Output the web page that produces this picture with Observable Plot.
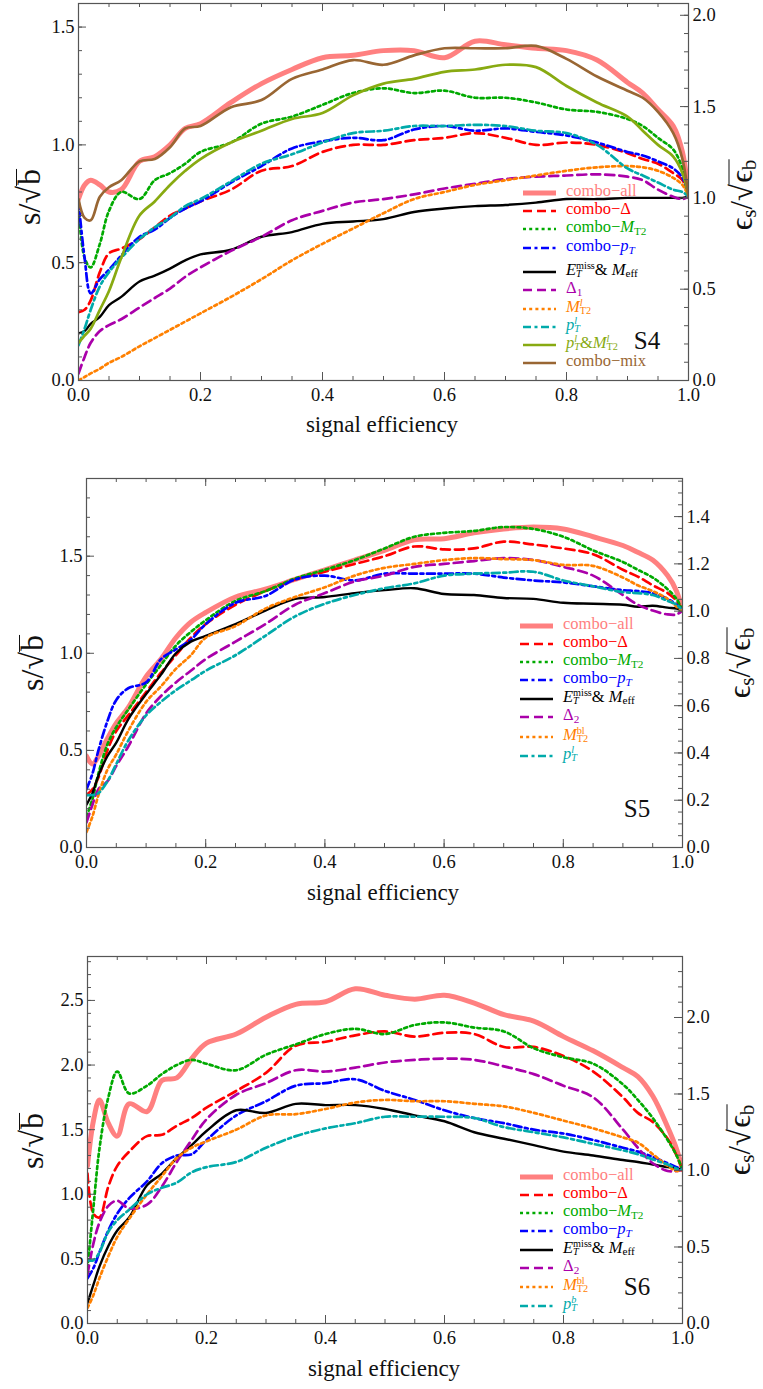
<!DOCTYPE html>
<html><head><meta charset="utf-8">
<script src="https://cdn.jsdelivr.net/npm/d3@7"></script>
<script src="https://cdn.jsdelivr.net/npm/@observablehq/plot@0.6"></script>
<style>
body{margin:0;background:#fff;}
#wrap{position:relative;width:763px;height:1389px;overflow:hidden;font-family:"Liberation Serif","Times New Roman",serif;color:#111;}
#wrap svg text{font-family:"Liberation Serif","Times New Roman",serif !important;font-size:18.5px !important;fill:#111;}
.plot{position:absolute;left:0;}
.lab{position:absolute;white-space:nowrap;transform:translate(-50%,-50%);line-height:1;font-family:"Liberation Serif","Times New Roman",serif;}
.rot{transform:translate(-50%,-50%) rotate(-90deg);}
.vin{display:inline-block;border-top:1.6px solid #111;line-height:0.8;padding-left:1px;}
.leg{position:absolute;white-space:nowrap;transform:translateY(-58%);font-size:16.5px;line-height:0.9;font-family:"Liberation Serif","Times New Roman",serif;}
.sb{font-size:0.68em;vertical-align:-0.22em;line-height:0;}
.ss{display:inline-block;vertical-align:-0.26em;font-size:0.62em;line-height:0.82;text-align:left;}
.ss>span{display:block;}
.samp{position:absolute;}
</style></head><body><div id="wrap"></div>
<script>
// ---------- data ----------
const X = [0,0.01,0.02,0.035,0.05,0.07,0.1,0.125,0.15,0.175,0.2,0.25,0.3,0.35,0.4,0.45,0.5,0.55,0.6,0.65,0.7,0.75,0.8,0.85,0.9,0.925,0.95,0.975,0.99,1];
const xMajor = [0,0.2,0.4,0.6,0.8,1.0];

// S4
const S4_all   = [0.77,0.83,0.85,0.83,0.80,0.81,0.93,0.95,1.00,1.07,1.09,1.18,1.26,1.32,1.37,1.38,1.40,1.40,1.37,1.44,1.425,1.41,1.40,1.36,1.265,1.22,1.15,1.08,0.97,0.78];
const S4_delta = [0.29,0.30,0.34,0.46,0.54,0.56,0.60,0.65,0.70,0.73,0.76,0.81,0.89,0.91,0.97,1.00,1.00,1.02,1.03,1.05,1.03,1.00,1.01,1.00,0.965,0.94,0.92,0.88,0.85,0.78];
const S4_mt2   = [0.74,0.52,0.48,0.58,0.72,0.80,0.77,0.85,0.88,0.92,0.97,1.01,1.09,1.12,1.17,1.22,1.24,1.22,1.23,1.20,1.20,1.18,1.15,1.14,1.11,1.08,1.03,0.98,0.90,0.78];
const S4_pt    = [0.76,0.52,0.37,0.43,0.47,0.53,0.61,0.64,0.69,0.73,0.76,0.84,0.91,0.985,1.015,1.03,1.02,1.065,1.08,1.06,1.07,1.055,1.04,1.01,0.97,0.955,0.93,0.90,0.86,0.78];
const S4_et    = [0.20,0.21,0.24,0.27,0.32,0.355,0.42,0.445,0.475,0.51,0.535,0.555,0.61,0.63,0.665,0.675,0.685,0.715,0.73,0.74,0.745,0.755,0.77,0.77,0.775,0.775,0.775,0.775,0.775,0.78];
const S4_d1    = [0.03,0.10,0.16,0.21,0.235,0.26,0.31,0.35,0.39,0.44,0.48,0.55,0.61,0.68,0.72,0.755,0.77,0.79,0.815,0.835,0.855,0.865,0.87,0.875,0.865,0.85,0.81,0.78,0.77,0.78];
const S4_m     = [0.0,0.015,0.03,0.05,0.075,0.10,0.145,0.18,0.215,0.25,0.285,0.355,0.43,0.51,0.58,0.645,0.71,0.77,0.80,0.83,0.85,0.87,0.89,0.905,0.91,0.905,0.89,0.86,0.83,0.78];
const S4_p     = [0.15,0.22,0.30,0.40,0.46,0.52,0.60,0.65,0.69,0.74,0.77,0.845,0.92,0.96,1.01,1.05,1.06,1.08,1.08,1.085,1.08,1.06,1.05,1.00,0.90,0.87,0.84,0.81,0.80,0.78];
const S4_pm    = [0.16,0.19,0.22,0.30,0.38,0.52,0.70,0.76,0.83,0.89,0.94,1.01,1.06,1.11,1.135,1.21,1.26,1.28,1.31,1.32,1.34,1.33,1.25,1.18,1.12,1.06,1.00,0.95,0.88,0.78];
const S4_mix   = [0.77,0.69,0.68,0.78,0.82,0.85,0.93,0.94,0.99,1.07,1.08,1.16,1.19,1.28,1.32,1.36,1.34,1.38,1.41,1.41,1.41,1.42,1.365,1.29,1.23,1.20,1.14,1.05,0.94,0.78];

// S5
const S5_all   = [0.47,0.43,0.47,0.56,0.64,0.72,0.88,0.97,1.08,1.16,1.21,1.29,1.33,1.38,1.43,1.48,1.53,1.585,1.59,1.62,1.64,1.65,1.64,1.60,1.555,1.52,1.48,1.40,1.32,1.22];
const S5_delta = [0.27,0.30,0.36,0.50,0.60,0.68,0.80,0.90,0.99,1.08,1.15,1.25,1.32,1.38,1.42,1.46,1.50,1.55,1.535,1.54,1.575,1.56,1.54,1.51,1.43,1.395,1.35,1.31,1.27,1.22];
const S5_mt2   = [0.16,0.25,0.38,0.53,0.62,0.71,0.84,0.94,1.04,1.11,1.17,1.27,1.32,1.385,1.43,1.48,1.54,1.60,1.62,1.63,1.65,1.64,1.60,1.53,1.47,1.43,1.39,1.33,1.28,1.22];
const S5_pt    = [0.30,0.38,0.50,0.65,0.76,0.82,0.85,0.97,1.02,1.07,1.15,1.26,1.295,1.38,1.40,1.375,1.41,1.41,1.41,1.41,1.39,1.375,1.365,1.345,1.325,1.32,1.31,1.28,1.25,1.22];
const S5_et    = [0.22,0.28,0.37,0.47,0.54,0.66,0.79,0.89,1.00,1.06,1.09,1.15,1.22,1.28,1.29,1.31,1.325,1.335,1.305,1.30,1.285,1.28,1.26,1.255,1.25,1.24,1.245,1.235,1.23,1.22];
const S5_d2    = [0.13,0.22,0.30,0.34,0.42,0.52,0.69,0.78,0.85,0.91,0.97,1.06,1.15,1.25,1.31,1.37,1.40,1.445,1.46,1.475,1.49,1.48,1.445,1.40,1.30,1.25,1.22,1.20,1.20,1.22];
const S5_m     = [0.08,0.16,0.27,0.40,0.48,0.60,0.75,0.83,0.92,0.99,1.08,1.14,1.23,1.29,1.34,1.40,1.44,1.46,1.48,1.49,1.485,1.48,1.455,1.45,1.39,1.35,1.32,1.28,1.24,1.22];
const S5_p     = [0.27,0.27,0.28,0.34,0.43,0.55,0.68,0.75,0.81,0.86,0.91,0.99,1.09,1.19,1.255,1.30,1.335,1.36,1.40,1.41,1.415,1.42,1.375,1.345,1.315,1.31,1.30,1.27,1.25,1.22];

// S6
const S6_all   = [1.22,1.57,1.73,1.55,1.45,1.70,1.64,1.88,1.90,2.05,2.17,2.24,2.37,2.47,2.49,2.59,2.54,2.51,2.54,2.48,2.39,2.34,2.22,2.11,1.98,1.91,1.76,1.52,1.35,1.19];
const S6_delta = [1.16,0.85,0.82,1.06,1.22,1.33,1.45,1.46,1.53,1.59,1.67,1.80,1.94,2.15,2.18,2.23,2.26,2.22,2.25,2.24,2.14,2.14,2.07,1.95,1.75,1.63,1.56,1.43,1.30,1.19];
const S6_mt2   = [0.43,0.90,1.35,1.75,1.95,1.78,1.84,1.93,2.00,2.04,2.01,1.96,2.08,2.16,2.24,2.28,2.24,2.31,2.33,2.29,2.26,2.13,2.06,2.01,1.85,1.73,1.59,1.42,1.30,1.19];
const S6_pt    = [0.35,0.43,0.55,0.72,0.85,0.97,1.10,1.24,1.30,1.31,1.42,1.61,1.72,1.84,1.86,1.89,1.80,1.73,1.65,1.59,1.55,1.50,1.47,1.42,1.36,1.33,1.29,1.24,1.21,1.19];
const S6_et    = [0.16,0.30,0.44,0.60,0.72,0.82,1.07,1.16,1.28,1.38,1.49,1.65,1.63,1.70,1.69,1.69,1.66,1.61,1.565,1.48,1.43,1.38,1.33,1.30,1.265,1.25,1.23,1.21,1.20,1.19];
const S6_d2    = [0.38,0.62,0.78,0.91,0.95,0.89,0.92,1.06,1.25,1.42,1.58,1.77,1.86,1.96,1.95,1.98,2.02,2.04,2.05,2.04,1.99,1.93,1.84,1.75,1.50,1.36,1.24,1.18,1.18,1.19];
const S6_m     = [0.12,0.22,0.35,0.52,0.67,0.81,1.00,1.14,1.28,1.36,1.41,1.50,1.61,1.62,1.66,1.71,1.73,1.72,1.72,1.70,1.68,1.63,1.57,1.51,1.44,1.40,1.31,1.22,1.18,1.19];
const S6_p     = [0.49,0.49,0.55,0.71,0.80,0.88,1.00,1.05,1.09,1.17,1.21,1.25,1.36,1.45,1.51,1.55,1.60,1.60,1.60,1.59,1.52,1.48,1.44,1.39,1.34,1.31,1.27,1.23,1.20,1.19];

// legend labels
const L_all="combo−all", L_delta="combo−Δ",
  L_mt2="combo−<i>M</i><span class=sb>T2</span>",
  L_pt="combo−<i>p</i><span class=sb><i>T</i></span>",
  L_et="<i>E</i><span class=ss><span>miss</span><span><i>T</i></span></span>&amp; <i>M</i><span class=sb>eff</span>",
  L_d1="Δ<span class=sb>1</span>", L_d2="Δ<span class=sb>2</span>",
  L_ml="<i>M</i><span class=ss><span><i>l</i></span><span>T2</span></span>",
  L_mbl="<i>M</i><span class=ss><span>bl</span><span>T2</span></span>",
  L_pl="<i>p</i><span class=ss><span><i>l</i></span><span><i>T</i></span></span>",
  L_pb="<i>p</i><span class=ss><span><i>b</i></span><span><i>T</i></span></span>",
  L_pm="<i>p</i><span class=ss><span><i>l</i></span><span><i>T</i></span></span>&amp;<i>M</i><span class=ss><span><i>l</i></span><span>T2</span></span>",
  L_mix="combo−mix";

const STY = {
  all:{color:"#ff8080",width:5},
  delta:{color:"#ff0000",width:2.7,dash:"9,5"},
  mt2:{color:"#00aa00",width:2.7,dash:"3,3.2"},
  pt:{color:"#0000ff",width:2.7,dash:"8,3.5,3,3.5"},
  et:{color:"#000000",width:2.4},
  d:{color:"#aa00aa",width:2.7,dash:"9,5"},
  m:{color:"#ff8000",width:2.7,dash:"3,3.2"},
  p:{color:"#00aaaa",width:2.7,dash:"8,3.5,3,3.5"},
  pm:{color:"#88aa11",width:2.7},
  mix:{color:"#996633",width:2.7}
};

const panels = [
 {name:"S4", top:0, h:463, mt:3, mb:83, ml:78, mr:75, yMax:1.6, k:0.775,
  leftMajor:[0,0.5,1.0,1.5], leftMinorMax:1.6, rightMajor:[0,0.5,1.0,1.5,2.0], rightStep:0.1, rightMinorMax:2.0,
  series:[["all",S4_all,L_all],["delta",S4_delta,L_delta],["mt2",S4_mt2,L_mt2],["pt",S4_pt,L_pt],["et",S4_et,L_et],["d",S4_d1,L_d1],["m",S4_m,L_ml],["p",S4_p,L_pl],["pm",S4_pm,L_pm],["mix",S4_mix,L_mix]],
  legY:[193,211,229,248,272,290,309,327,345,363], legX:[523,556,566],
  sLab:[647,340], yLab:[29,197], rLab:[741,195], xLab:[382,424]},
 {name:"S5", top:463, h:463, mt:15, mb:79, ml:86, mr:81, yMax:1.9, k:1.217,
  leftMajor:[0,0.5,1.0,1.5], leftMinorMax:1.9, rightMajor:[0,0.2,0.4,0.6,0.8,1.0,1.2,1.4], rightStep:0.05, rightMinorMax:1.55,
  series:[["all",S5_all,L_all],["delta",S5_delta,L_delta],["mt2",S5_mt2,L_mt2],["pt",S5_pt,L_pt],["et",S5_et,L_et],["d",S5_d2,L_d2],["m",S5_m,L_mbl],["p",S5_p,L_pl]],
  legY:[626,644,662,680,699,717,737,756], legX:[520,553,563],
  sLab:[637,808], yLab:[32,663], rLab:[739,663], xLab:[383,892]},
 {name:"S6", top:926, h:463, mt:30, mb:66, ml:87, mr:81, yMax:2.84, k:1.184,
  leftMajor:[0,0.5,1.0,1.5,2.0,2.5], leftMinorMax:2.8, rightMajor:[0,0.5,1.0,1.5,2.0], rightStep:0.1, rightMinorMax:2.3,
  series:[["all",S6_all,L_all],["delta",S6_delta,L_delta],["mt2",S6_mt2,L_mt2],["pt",S6_pt,L_pt],["et",S6_et,L_et],["d",S6_d2,L_d2],["m",S6_m,L_mbl],["p",S6_p,L_pb]],
  legY:[1177,1195,1213,1231,1250,1268,1287,1306], legX:[520,553,563],
  sLab:[637,1286], yLab:[32,1141], rLab:[739,1140], xLab:[384,1368]}
];

// ---------- drawing ----------
const AX = "#555";
const wrap = document.getElementById("wrap");
const fmt = d => (Math.abs(d) < 1e-9 ? 0 : d).toFixed(1);

for (const p of panels) {
  const plotW = 763 - p.ml - p.mr, plotH = p.h - p.mt - p.mb;
  const leftMinor = d3.range(0, p.leftMinorMax + 1e-6, 0.1);
  const rightMinor = d3.range(0, p.rightMinorMax + 1e-6, p.rightStep).map(r => r * p.k);
  const rightMajorL = p.rightMajor.map(r => r * p.k);
  const xMinor = d3.range(0, 1.0001, 0.05);
  const marks = [];
  for (const [key, vals] of p.series) {
    const st = STY[key];
    marks.push(Plot.line(X.map((x, i) => ({x, y: vals[i]})), {
      x: "x", y: "y", stroke: st.color, strokeWidth: st.width,
      strokeDasharray: st.dash || "none", curve: "catmull-rom", clip: true, strokeLinejoin: "round"
    }));
  }
  const tk = (vals, len, side) => {
    if (side === "left") return Plot.tickY(vals, {y: d => d, insetRight: plotW - len, stroke: AX, strokeWidth: 1});
    if (side === "right") return Plot.tickY(vals, {y: d => d, insetLeft: plotW - len, stroke: AX, strokeWidth: 1});
    if (side === "bottom") return Plot.tickX(vals, {x: d => d, insetTop: plotH - len, stroke: AX, strokeWidth: 1});
    return Plot.tickX(vals, {x: d => d, insetBottom: plotH - len, stroke: AX, strokeWidth: 1});
  };
  marks.push(tk(leftMinor, 4, "left"), tk(p.leftMajor, 8, "left"));
  marks.push(tk(rightMinor, 4, "right"), tk(rightMajorL, 8, "right"));
  marks.push(tk(xMinor, 4, "bottom"), tk(xMajor, 8, "bottom"));
  marks.push(tk(xMinor, 4, "top"), tk(xMajor, 8, "top"));
  marks.push(Plot.frame({stroke: AX, strokeWidth: 1.2}));
  marks.push(Plot.axisY({anchor: "left", ticks: p.leftMajor, tickSize: 0, tickPadding: 4, tickFormat: fmt, label: null}));
  marks.push(Plot.axisY({anchor: "right", ticks: rightMajorL, tickSize: 0, tickPadding: 4, tickFormat: d => fmt(d / p.k), label: null}));
  marks.push(Plot.axisX({anchor: "bottom", ticks: xMajor, tickSize: 0, tickPadding: 7, tickFormat: fmt, label: null}));

  const chart = Plot.plot({
    width: 763, height: p.h,
    marginTop: p.mt, marginBottom: p.mb, marginLeft: p.ml, marginRight: p.mr,
    x: {domain: [0, 1], axis: null},
    y: {domain: [0, p.yMax], axis: null},
    style: {fontFamily: '"Liberation Serif", "Times New Roman", serif', fontSize: "18.5px", color: "#111", background: "white", overflow: "visible"},
    marks
  });
  chart.classList.add("plot");
  chart.style.top = p.top + "px";
  chart.style.position = "absolute";
  wrap.appendChild(chart);

  // legend
  const [sx0, sx1, tx] = p.legX;
  p.series.forEach(([key, , html], i) => {
    const st = STY[key], y = p.legY[i];
    const svg = document.createElementNS("http://www.w3.org/2000/svg", "svg");
    svg.setAttribute("width", sx1 - sx0); svg.setAttribute("height", 10);
    svg.setAttribute("class", "samp");
    svg.style.left = sx0 + "px"; svg.style.top = (y - 5) + "px";
    const ln = document.createElementNS("http://www.w3.org/2000/svg", "line");
    ln.setAttribute("x1", 0); ln.setAttribute("x2", sx1 - sx0); ln.setAttribute("y1", 5); ln.setAttribute("y2", 5);
    ln.setAttribute("stroke", st.color); ln.setAttribute("stroke-width", st.width);
    if (st.dash) ln.setAttribute("stroke-dasharray", st.dash);
    svg.appendChild(ln);
    wrap.appendChild(svg);
    const t = document.createElement("div");
    t.className = "leg"; t.innerHTML = html;
    t.style.left = tx + "px"; t.style.top = y + "px"; t.style.color = st.color;
    wrap.appendChild(t);
  });

  const addLab = (html, pos, cls, size) => {
    const d = document.createElement("div");
    d.className = "lab " + (cls || ""); d.innerHTML = html;
    d.style.left = pos[0] + "px"; d.style.top = pos[1] + "px"; d.style.fontSize = size + "px";
    wrap.appendChild(d);
  };
  addLab(p.name, p.sLab, "", 25);
  addLab("s/√<span class=vin>b</span>", p.yLab, "rot", 32);
  addLab("ϵ<span class=sb>s</span>/√<span class=vin>ϵ<span class=sb>b</span></span>", p.rLab, "rot", 31);
  addLab("signal efficiency", p.xLab, "", 23);
}
</script></body></html>
